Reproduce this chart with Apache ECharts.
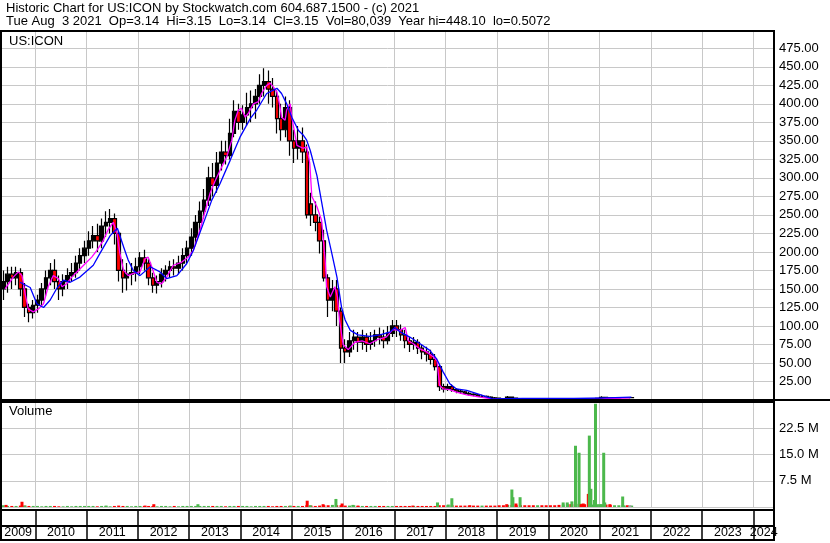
<!DOCTYPE html>
<html><head><meta charset="utf-8">
<script src="https://cdn.jsdelivr.net/npm/echarts@6/dist/echarts.min.js"></script>
<style>html,body{margin:0;padding:0;background:#fff}#c{width:830px;height:543px}</style>
</head><body><div id="c"></div>
<script>
// ---------------- DATA ----------------
const titleLine1 = 'Historic Chart for US:ICON by Stockwatch.com 604.687.1500 - (c) 2021';
const titleLine2 = 'Tue Aug  3 2021  Op=3.14  Hi=3.15  Lo=3.14  Cl=3.15  Vol=80,039  Year hi=448.10  lo=0.5072';
const symbolLabel = 'US:ICON';
const volumeLabel = 'Volume';
const yearLabels = ['2009','2010','2011','2012','2013','2014','2015','2016','2017','2018','2019','2020','2021','2022','2023','2024'];

const months = [
'2009-05','2009-06','2009-07','2009-08','2009-09','2009-10','2009-11','2009-12',
'2010-01','2010-02','2010-03','2010-04','2010-05','2010-06','2010-07','2010-08','2010-09','2010-10','2010-11','2010-12',
'2011-01','2011-02','2011-03','2011-04','2011-05','2011-06','2011-07','2011-08','2011-09','2011-10','2011-11','2011-12',
'2012-01','2012-02','2012-03','2012-04','2012-05','2012-06','2012-07','2012-08','2012-09','2012-10','2012-11','2012-12',
'2013-01','2013-02','2013-03','2013-04','2013-05','2013-06','2013-07','2013-08','2013-09','2013-10','2013-11','2013-12',
'2014-01','2014-02','2014-03','2014-04','2014-05','2014-06','2014-07','2014-08','2014-09','2014-10','2014-11','2014-12',
'2015-01','2015-02','2015-03','2015-04','2015-05','2015-06','2015-07','2015-08','2015-09','2015-10','2015-11','2015-12',
'2016-01','2016-02','2016-03','2016-04','2016-05','2016-06','2016-07','2016-08','2016-09','2016-10','2016-11','2016-12',
'2017-01','2017-02','2017-03','2017-04','2017-05','2017-06','2017-07','2017-08','2017-09','2017-10','2017-11','2017-12',
'2018-01','2018-02','2018-03','2018-04','2018-05','2018-06','2018-07','2018-08','2018-09','2018-10','2018-11','2018-12',
'2019-01','2019-02','2019-03','2019-04','2019-05','2019-06','2019-07','2019-08','2019-09','2019-10','2019-11','2019-12',
'2020-01','2020-02','2020-03','2020-04','2020-05','2020-06','2020-07','2020-08','2020-09','2020-10','2020-11','2020-12',
'2021-01','2021-02','2021-03','2021-04','2021-05','2021-06','2021-07','2021-08'];

const opens = [
150,160,170,165,172,150,125,118,
128,135,150,165,175,160,150,160,168,172,185,195,
205,215,222,215,235,240,245,225,175,165,170,172,
180,192,185,165,155,160,170,175,180,178,185,195,
205,220,240,255,270,300,290,320,335,330,360,390,
375,385,395,400,410,425,430,420,410,380,365,395,
350,340,350,335,265,250,240,215,165,135,150,120,
70,65,80,85,78,85,75,80,88,85,80,90,
100,95,88,80,75,78,70,65,62,55,45,18,
15,18,14,12,11,9,8,7,5,5,4,3,
2.5,2,1.8,4,2.5,2,1.8,1.6,1.5,1.4,1.6,1.5,
1.3,1.2,1.1,0.9,1.0,1.2,1.1,1.3,1.5,1.4,1.3,1.6,
2.2,3.5,3.0,2.8,3.0,3.2,3.4,3.14];
const closes = [
160,170,165,172,150,125,118,128,
135,150,165,175,160,150,160,168,172,185,195,205,
215,222,215,235,240,245,225,175,165,170,172,180,
192,185,165,155,160,170,175,180,178,185,195,205,
220,240,255,270,300,290,320,335,330,360,390,375,
385,395,400,410,425,430,420,410,380,365,395,350,
340,350,335,250,250,240,215,165,135,150,120,70,
65,80,85,78,85,75,80,88,85,80,90,100,
95,88,80,75,78,70,65,62,55,45,18,15,
18,14,12,11,9,8,7,5,5,4,3,2.5,
2,1.8,4,2.5,2,1.8,1.6,1.5,1.4,1.6,1.5,1.3,
1.2,1.1,0.9,1.0,1.2,1.1,1.3,1.5,1.4,1.3,1.6,2.2,
3.5,3.0,2.8,3.0,3.2,3.4,3.2,3.15];
const lows = [
135,145,150,155,140,112,105,110,
118,128,140,155,150,135,140,150,160,165,175,185,
195,205,200,205,220,225,210,160,145,148,155,160,
170,175,155,145,144,152,160,165,168,170,175,185,
195,210,228,245,262,275,280,310,318,325,355,365,
365,370,375,380,400,410,400,395,360,350,355,330,
320,325,320,245,235,228,198,160,112,120,100,50,
50,58,68,65,68,65,68,72,75,70,75,85,
85,80,70,65,68,62,55,52,48,40,12,10,
12,11,9,8,7,6,5,4,3,3,2,1.5,
1.5,1.4,1.5,2,1.6,1.4,1.2,1.1,1,1.1,1.1,1,
0.9,0.8,0.6,0.51,0.7,0.8,0.8,0.9,1.0,1,1,1.3,
1.8,2.5,2.2,2.3,2.6,2.8,2.9,3.1];
const highs = [
175,180,180,180,178,158,130,135,
142,158,175,185,190,168,170,178,185,195,205,215,
228,235,238,245,255,258,252,228,190,185,185,192,
200,203,190,172,168,178,182,188,190,195,205,215,
232,250,268,285,315,320,335,350,350,380,405,400,
398,415,418,420,440,448,445,435,418,400,410,405,
365,370,368,345,280,268,248,230,170,162,162,125,
82,92,95,92,95,90,92,95,98,95,100,108,
108,102,95,85,85,82,75,72,68,62,48,22,
22,21,16,14,12,11,9,8,7,6,5,4,
3,2.6,5.5,4.5,3,2.4,2.2,2,2,2.2,2,1.8,
1.7,1.6,1.4,1.5,1.8,1.9,2.2,2.6,2.4,2,2.5,3,
5,4.5,3.8,3.6,3.8,4.2,4.0,3.2];

// monthly baseline volume (millions)
const volMonthly = [
0.5,0.3,0.3,0.3,0.4,0.4,0.3,0.3,
0.3,0.2,0.3,0.3,0.3,0.2,0.2,0.3,0.2,0.3,0.3,0.3,
0.3,0.3,0.2,0.3,0.3,0.2,0.3,0.4,0.3,0.3,0.2,0.3,
0.3,0.3,0.3,0.3,0.2,0.3,0.3,0.2,0.3,0.2,0.3,0.3,
0.3,0.3,0.3,0.3,0.3,0.3,0.3,0.3,0.2,0.3,0.3,0.3,
0.3,0.3,0.2,0.3,0.3,0.3,0.3,0.2,0.3,0.3,0.3,0.3,
0.3,0.3,0.3,0.5,0.4,0.3,0.4,0.5,0.5,0.6,0.5,0.5,
0.4,0.4,0.5,0.3,0.3,0.3,0.3,0.3,0.3,0.3,0.3,0.3,
0.3,0.3,0.3,0.3,0.3,0.3,0.3,0.3,0.3,0.3,0.5,0.5,
0.5,0.5,0.4,0.4,0.4,0.4,0.4,0.4,0.4,0.4,0.4,0.4,
0.5,0.5,0.6,0.6,0.5,0.5,0.5,0.5,0.5,0.5,0.5,0.5,
0.5,0.5,0.6,0.7,0.8,0.8,0.9,0.9,0.8,0.7,0.7,0.8,
0.8,0.7,0.6,0.5,0.5,0.5,0.5,0.4];

// notable volume bars
const spikeDates  = [2009.43,2009.74,2009.80,2011.38,2012.14,2012.31,2013.17,2014.97,2015.30,2015.36,2015.61,2015.86,2015.98,2016.19,2016.29,2017.36,2017.84,2018.05,2018.12,2018.47,2019.19,2019.29,2019.31,2019.37,2019.45,2020.29,2020.37,2020.44,2020.46,2020.53,2020.60,2020.64,2020.68,2020.78,2020.80,2020.83,2020.90,2020.92,2021.01,2021.08,2021.10,2021.20,2021.45,2021.48,2021.59];
const spikeValues = [0.6,1.5,0.4,0.4,0.4,0.8,0.8,0.4,1.8,0.5,0.8,2.3,1.0,0.6,0.4,0.4,1.3,0.7,2.5,0.5,0.8,5.0,2.8,1.0,2.8,1.3,1.3,0.8,1.6,17.5,15.5,0.8,1.0,3.75,20.4,5.2,2.0,29.5,0.8,15.5,1.3,0.8,3.0,0.4,0.5];
const spikeKind   = ['d','d','u','u','d','d','u','u','d','u','d','u','d','u','d','d','u','u','u','d','d','u','u','d','u','u','u','d','u','u','u','d','d','d','u','u','u','u','u','u','u','d','u','u','n'];

// moving averages
const maShortDates = [2009.41,2009.57,2009.67,2009.74,2009.80,2009.86,2009.96,2010.06,2010.16,2010.25,2010.35,2010.45,2010.52,2010.61,2010.71,2010.84,2010.97,2011.10,2011.20,2011.32,2011.42,2011.52,2011.59,2011.65,2011.72,2011.81,2011.91,2012.04,2012.14,2012.20,2012.27,2012.37,2012.46,2012.56,2012.69,2012.85,2012.98,2013.08,2013.21,2013.31,2013.41,2013.50,2013.60,2013.73,2013.83,2013.89,2013.96,2014.02,2014.09,2014.15,2014.25,2014.35,2014.41,2014.51,2014.58,2014.64,2014.71,2014.77,2014.80,2014.87,2014.90,2014.97,2015.00,2015.10,2015.22,2015.29,2015.35,2015.39,2015.49,2015.58,2015.61,2015.65,2015.68,2015.75,2015.84,2015.89,2015.93,2016.00,2016.10,2016.23,2016.37,2016.52,2016.68,2016.84,2016.97,2017.11,2017.21,2017.27,2017.37,2017.50,2017.63,2017.76,2017.83,2017.88,2017.95,2018.08,2018.21,2018.41,2018.67,2018.93,2019.45,2020.23,2021.01,2021.14,2021.59];
const maShortValues = [150,166,173,168,144,123,119,123,130,153,168,164,153,157,166,175,184,193,202,215,230,240,225,198,175,168,171,173,191,193,180,159,157,166,182,186,193,202,230,255,280,295,310,328,351,378,392,394,382,387,400,403,414,425,428,423,416,396,382,378,392,400,382,344,340,342,320,275,261,243,220,189,153,139,153,139,108,75,68,78,80,76,82,85,95,94,98,80,76,69,65,58,53,20,15,14,10.5,7,3.8,1.1,1.5,1.2,1.2,2,3];
const maLongDates = [2009.70,2009.90,2010.03,2010.16,2010.29,2010.42,2010.55,2010.68,2010.87,2011.13,2011.26,2011.46,2011.60,2011.73,2011.81,2011.91,2012.04,2012.24,2012.43,2012.56,2012.76,2012.95,2013.08,2013.31,2013.44,2013.60,2013.80,2013.99,2014.19,2014.32,2014.51,2014.71,2014.80,2014.90,2015.00,2015.13,2015.22,2015.29,2015.36,2015.49,2015.58,2015.68,2015.78,2015.88,2015.97,2016.04,2016.14,2016.29,2016.52,2016.72,2016.92,2017.01,2017.11,2017.30,2017.50,2017.69,2017.82,2017.95,2018.08,2018.21,2018.41,2018.67,2018.92,2019.50,2020.50,2021.14,2021.62];
const maLongValues = [159,152,130,125,135,151,162,159,166,182,198,222,232,205,189,175,168,180,173,164,168,184,202,245,270,292,324,355,380,392,414,421,414,400,382,364,358,351,337,303,268,229,198,166,125,108,94,88,86,88,92,98,92,85,76,67,56,38,22,15,13,7.4,1.6,2,2,3,3.8];

// ---------------- CHART ----------------
const FONT = '"Liberation Sans", Arial, sans-serif';
const X_MIN = 2009.331, X_MAX = 2024.40;
const yearBounds = yearLabels.slice(1).map(Number);
const labelCenters = yearLabels.map(Number).map(y => (Math.max(y, X_MIN) + Math.min(y + 1, X_MAX)) / 2);
const toYear = m => { const [y, mo] = m.split('-').map(Number); return y + (mo - 0.5) / 12; };

const candleData = months.map((m, i) => [toYear(m), opens[i], closes[i], lows[i], highs[i]]);
const GREEN = '#4cb84c', RED = '#ff0000', GRAY = '#a0a0a0';
const volData = [];
months.forEach((m, i) => volData.push({value: [toYear(m), volMonthly[i] * 1e6], itemStyle: {color: closes[i] >= opens[i] ? GREEN : RED}}));
spikeDates.forEach((d, i) => volData.push({value: [d, spikeValues[i] * 1e6], itemStyle: {color: spikeKind[i] === 'u' ? GREEN : spikeKind[i] === 'd' ? RED : GRAY}}));

const grayGrid = {show: true, lineStyle: {color: '#c8c8c8', width: 1}};
function xAxisFor(grid, extra) {
  return Object.assign({
    type: 'value', gridIndex: grid, min: X_MIN, max: X_MAX,
    axisLine: {show: false},
    axisTick: {show: false, customValues: yearBounds},
    axisLabel: {show: false},
    splitLine: grayGrid
  }, extra || {});
}
const txt = {fontFamily: FONT, fontSize: 13, color: '#000'};

const option = {
  backgroundColor: '#fff',
  animation: false,
  title: [
    {text: titleLine1, left: 6, top: 2, padding: 0, textStyle: Object.assign({fontWeight: 'normal'}, txt)},
    {text: titleLine2, left: 6, top: 15, padding: 0, textStyle: Object.assign({fontWeight: 'normal'}, txt)},
    {text: symbolLabel, left: 9, top: 35, padding: 0, textStyle: Object.assign({fontWeight: 'normal'}, txt)},
    {text: volumeLabel, left: 9, top: 405, padding: 0, textStyle: Object.assign({fontWeight: 'normal'}, txt)}
  ],
  grid: [
    {left: 1, top: 31, width: 773, height: 369, show: true, borderColor: '#000', borderWidth: 2, backgroundColor: 'transparent', z: 5},
    {left: 1, top: 402, width: 773, height: 105, show: false},
    {left: 1, top: 402, width: 773, height: 108, show: true, borderColor: '#000', borderWidth: 2, backgroundColor: 'transparent', z: 5},
    {left: 1, top: 510, width: 773, height: 30, show: true, borderColor: '#000', borderWidth: 2, backgroundColor: 'transparent', z: 5},
    {left: 1, top: 526, width: 773, height: 14, show: true, borderColor: '#000', borderWidth: 2, backgroundColor: 'transparent', z: 5}
  ],
  xAxis: [
    xAxisFor(0),
    xAxisFor(1),
    xAxisFor(2, {splitLine: {show: false}}),
    xAxisFor(3, {splitLine: {show: true, lineStyle: {color: '#000', width: 1.5}}}),
    xAxisFor(4, {
      position: 'bottom', splitLine: {show: false},
      axisLabel: {show: true, inside: true, margin: 1, customValues: labelCenters,
        formatter: v => yearLabels[Math.floor(v + 1e-6) - Number(yearLabels[0])],
        fontFamily: FONT, fontSize: 12.5, color: '#000'}
    })
  ],
  yAxis: [
    {type: 'value', gridIndex: 0, position: 'right', min: 0, max: 498.4, interval: 25,
      axisLine: {show: false}, axisTick: {show: false},
      axisLabel: Object.assign({margin: 5, showMinLabel: false, showMaxLabel: false, formatter: v => v.toFixed(2)}, txt),
      splitLine: grayGrid},
    {type: 'value', gridIndex: 1, position: 'right', min: 0, max: 30e6, interval: 7.5e6,
      axisLine: {show: false}, axisTick: {show: false},
      axisLabel: Object.assign({margin: 5, showMinLabel: false, showMaxLabel: false, formatter: v => (v / 1e6).toFixed(1) + ' M'}, txt),
      splitLine: grayGrid},
    {type: 'value', gridIndex: 2, show: false},
    {type: 'value', gridIndex: 3, show: false},
    {type: 'value', gridIndex: 4, show: false}
  ],
  series: [
    {type: 'candlestick', xAxisIndex: 0, yAxisIndex: 0, barWidth: 4, data: candleData,
      encode: {x: 0, y: [1, 2, 3, 4]},
      itemStyle: {color: '#000', color0: RED, borderColor: '#000', borderColor0: '#000', borderWidth: 1.2}, z: 2},
    {type: 'line', xAxisIndex: 0, yAxisIndex: 0, showSymbol: false, z: 3,
      data: maShortDates.map((d, i) => [d, maShortValues[i]]),
      lineStyle: {color: '#ff00ff', width: 1.3}},
    {type: 'line', xAxisIndex: 0, yAxisIndex: 0, showSymbol: false, z: 4,
      data: maLongDates.map((d, i) => [d, maLongValues[i]]),
      lineStyle: {color: '#0000ff', width: 1.3}},
    {type: 'bar', xAxisIndex: 1, yAxisIndex: 1, barWidth: 3, data: volData, z: 2}
  ],
  graphic: [
    {type: 'line', shape: {x1: 774, y1: 400, x2: 830, y2: 400}, style: {stroke: '#000', lineWidth: 2}, z: 10}
  ]
};
const chart = echarts.init(document.getElementById('c'), null, {renderer: 'canvas'});
chart.setOption(option);
</script></body></html>
